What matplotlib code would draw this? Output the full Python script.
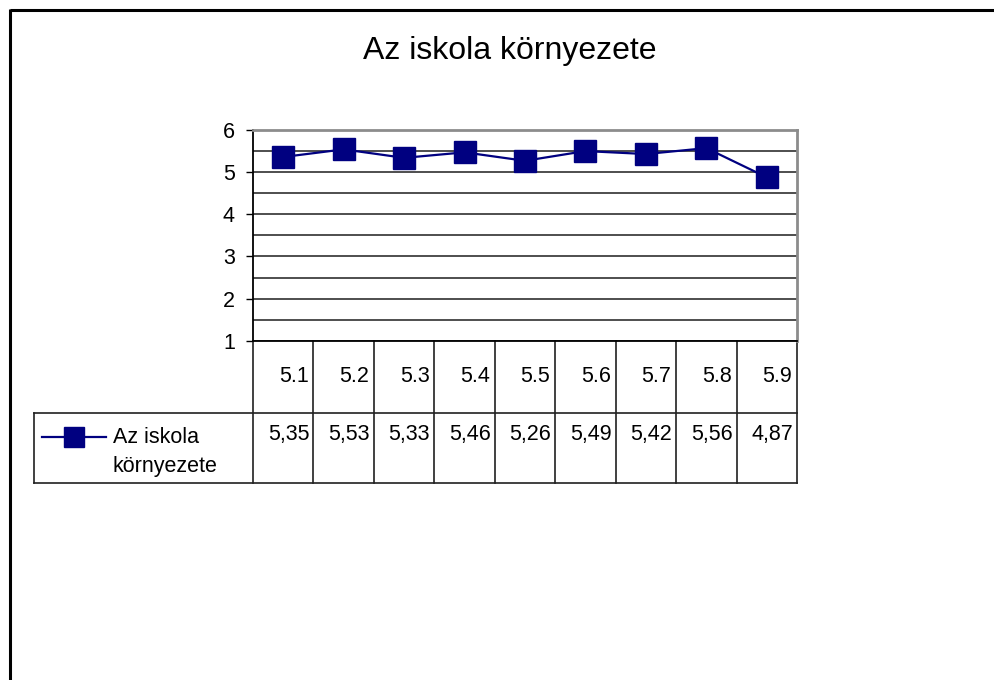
import matplotlib
matplotlib.use("Agg")
import matplotlib.pyplot as plt
import matplotlib.transforms as mtransforms
from matplotlib.lines import Line2D
from matplotlib.ticker import MultipleLocator

plt.rcParams['font.family'] = ['Liberation Sans', 'DejaVu Sans']

# ---- data ----
title = "Az iskola környezete"
series_name = "Az iskola környezete"
legend_label_lines = ["Az iskola", "környezete"]
categories = ["5.1", "5.2", "5.3", "5.4", "5.5", "5.6", "5.7", "5.8", "5.9"]
values = [5.35, 5.53, 5.33, 5.46, 5.26, 5.49, 5.42, 5.56, 4.87]
y_ticks = [1, 2, 3, 4, 5, 6]

# ---- layout (pixels) ----
W, H = 994, 680
AX_L, AX_R, AX_T, AX_B = 253, 797, 129.5, 341
ROW1_B, ROW2_B = 413, 483
LEG_L = 34
NAVY = "#000080"
TXT = 15.5

fig = plt.figure(figsize=(W / 100, H / 100), dpi=100)
fig.patch.set_facecolor("white")


def fx(px):
    return px / W


def fy(py):
    return 1 - py / H


ax = fig.add_axes([fx(AX_L), fy(AX_B), (AX_R - AX_L) / W, (AX_B - AX_T) / H])


def ay(py):
    return (AX_B - py) / (AX_B - AX_T)


def axx(px):
    return (px - AX_L) / (AX_R - AX_L)


n = len(categories)
xs = list(range(n))
ax.set_xlim(-0.5, n - 0.5)
ax.set_ylim(min(y_ticks), max(y_ticks))

# gridlines
ax.yaxis.set_major_locator(MultipleLocator(1))
ax.yaxis.set_minor_locator(MultipleLocator(0.5))
ax.grid(True, which="major", axis="y", color="#404040", lw=1.3, zorder=1)
ax.grid(True, which="minor", axis="y", color="#404040", lw=1.3, zorder=1)
ax.tick_params(axis="y", which="minor", length=0)
ax.tick_params(axis="y", which="major", direction="out", length=5, width=1,
               labelsize=15.5, pad=8, color="black")
ax.set_yticks(y_ticks)
ax.set_yticklabels([str(t) for t in y_ticks])
ax.set_xticks([])

for s in ["top", "right"]:
    ax.spines[s].set_color("#8c8c8c")
    ax.spines[s].set_linewidth(2)
ax.spines["left"].set_color("black")
ax.spines["left"].set_linewidth(1.3)
ax.spines["bottom"].set_color("black")
ax.spines["bottom"].set_linewidth(1.3)

# series
ax.plot(xs, values, color=NAVY, lw=1.6, marker="s", markersize=15.5,
        markerfacecolor=NAVY, markeredgecolor=NAVY, zorder=5, clip_on=False)

# ---- data table ----
trans = mtransforms.blended_transform_factory(ax.transData, ax.transAxes)
tcol = "#202020"
y_r1 = ay(ROW1_B)
y_r2 = ay(ROW2_B)
for i in range(n + 1):
    ax.plot([i - 0.5, i - 0.5], [0, y_r2], transform=trans, color=tcol,
            lw=1.2, clip_on=False)
for yy in (y_r1, y_r2):
    ax.plot([axx(LEG_L), 1], [yy, yy], transform=ax.transAxes, color=tcol,
            lw=1.2, clip_on=False)
ax.plot([axx(LEG_L), axx(LEG_L)], [y_r1, y_r2], transform=ax.transAxes,
        color=tcol, lw=1.2, clip_on=False)

for i, (c, v) in enumerate(zip(categories, values)):
    ax.annotate(c, xy=(i + 0.5, ay(382)), xycoords=trans, xytext=(-3.5, 0),
                textcoords="offset points", ha="right", va="baseline",
                fontsize=TXT, color="black")
    ax.annotate(f"{v:.2f}".replace(".", ","), xy=(i + 0.5, ay(440)),
                xycoords=trans, xytext=(-3.0, 0), textcoords="offset points",
                ha="right", va="baseline", fontsize=TXT, color="black")

# legend key in the table
ax.plot([axx(42), axx(106)], [ay(437), ay(437)], transform=ax.transAxes,
        color=NAVY, lw=1.6, clip_on=False)
ax.plot([axx(74)], [ay(437)], transform=ax.transAxes, marker="s",
        markersize=15, color=NAVY, clip_on=False)
ax.text(axx(113), ay(443), legend_label_lines[0], transform=ax.transAxes,
        ha="left", va="baseline", fontsize=TXT)
ax.text(axx(113), ay(472), legend_label_lines[1], transform=ax.transAxes,
        ha="left", va="baseline", fontsize=TXT)

# title
fig.text(fx(510), fy(59), title, ha="center", va="baseline", fontsize=23)

# outer frame (top and left edges)
fig.add_artist(Line2D([fx(9.5), fx(994)], [fy(9.5), fy(9.5)], color="black",
                      lw=2.2, solid_capstyle="butt", transform=fig.transFigure))
fig.add_artist(Line2D([fx(9.5), fx(9.5)], [fy(8.5), fy(680)], color="black",
                      lw=2.2, solid_capstyle="butt", transform=fig.transFigure))

fig.savefig("out.png", dpi=100, facecolor="white")
